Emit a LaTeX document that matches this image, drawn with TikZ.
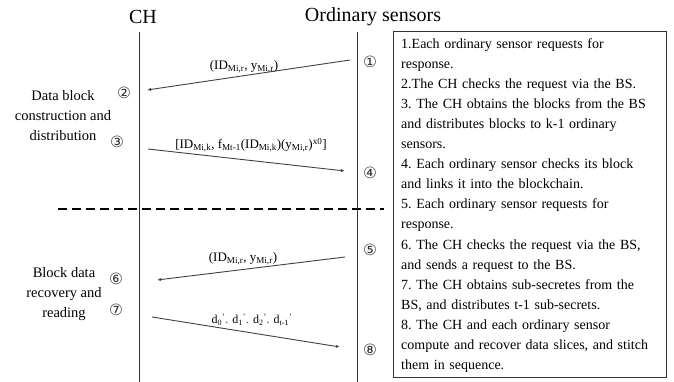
\documentclass[tikz,border=0pt]{standalone}
\usepackage{fontspec}
\setmainfont{Liberation Serif}
\newfontfamily\circfont{DejaVu Sans}
\newfontfamily\cjk{Noto Sans CJK SC}
\usetikzlibrary{arrows.meta}
\frenchspacing
\tikzset{lifeline/.style={draw=black!80, line width=0.9pt}}
\tikzset{msg/.style={draw=black!75, line width=0.9pt, -{Latex[length=4pt,width=3pt]}}}
\tikzset{msglabel/.style={font=\fontsize{13}{14}\selectfont, inner sep=0pt}}
\tikzset{circnum/.style={font=\circfont\fontsize{15.5}{16}\selectfont, text=black!80, inner sep=0pt}}
\tikzset{phase/.style={font=\fontsize{14.5}{20}\selectfont, align=center, inner sep=0pt}}

\begin{document}
\begin{tikzpicture}[x=1pt, y=-1pt]
    \useasboundingbox (0,0) rectangle (674,382);
    \node[font=\fontsize{20}{22}\selectfont] (ch) at (143,17) {CH};
    \node[font=\fontsize{20}{22}\selectfont] (os) at (373,17) {Ordinary sensors};
    \coordinate (chtop) at (139,32);
    \coordinate (chbot) at (139,382);
    \coordinate (ostop) at (357,32);
    \coordinate (osbot) at (357,382);
    \draw[lifeline] (chtop) -- (chbot);
    \draw[lifeline] (ostop) -- (osbot);
    \coordinate (dashl) at (58,209);
    \coordinate (dashr) at (384,209);
    \draw[line width=1.8pt, dash pattern=on 9pt off 5pt] (dashl) -- (dashr);
    \node[circnum] (c1) at (370,62) {①};
    \node[circnum] (c2) at (124,93) {②};
    \node[circnum] (c3) at (117,142) {③};
    \node[circnum] (c4) at (370,173) {④};
    \node[circnum] (c5) at (370,250) {⑤};
    \node[circnum] (c6) at (116,279) {⑥};
    \node[circnum] (c7) at (116,310) {⑦};
    \node[circnum] (c8) at (370,350) {⑧};
    \node[phase] (ph1) at (63,116) {Data block\\construction and\\distribution};
    \node[phase] (ph2) at (64,294) {Block data\\recovery and\\reading};
    \coordinate (m1s) at (350,60);
    \coordinate (m1e) at (147,90);
    \coordinate (m2s) at (148,149);
    \coordinate (m2e) at (345,171);
    \coordinate (m3s) at (345,257);
    \coordinate (m3e) at (157,280);
    \coordinate (m4s) at (152,317);
    \coordinate (m4e) at (340,347);
    \draw[msg] (m1s) -- (m1e);
    \draw[msg] (m2s) -- (m2e);
    \draw[msg] (m3s) -- (m3e);
    \draw[msg] (m4s) -- (m4e);
    \node[msglabel] (l1) at (244,67) {(ID\textsubscript{Mi,r}, y\textsubscript{Mi,r})};
    \node[msglabel] (l2) at (251,145) {[ID\textsubscript{Mi,k}, f\textsubscript{Mt-1}(ID\textsubscript{Mi,k})(y\textsubscript{Mi,r})\textsuperscript{x0}]};
    \node[msglabel] (l3) at (243,259) {(ID\textsubscript{Mi,r}, y\textsubscript{Mi,r})};
    \node[msglabel, font=\fontsize{12}{14}\selectfont] (l4) at (252,320) {d\textsubscript{0}\textsuperscript{'}{\cjk\fontsize{7}{8}\selectfont 、}d\textsubscript{1}\textsuperscript{'}{\cjk\fontsize{7}{8}\selectfont 、}d\textsubscript{2}\textsuperscript{'}{\cjk\fontsize{7}{8}\selectfont 、}d\textsubscript{t-1}\textsuperscript{'}};
    \draw[line width=0.8pt, draw=black!80] (393,31) rectangle (666,377);
    \node[anchor=north west, inner sep=0pt, text width=262pt, align=left,
          font=\fontsize{14}{20.1}\selectfont] (steps) at (401,38) {%
      1.Each ordinary sensor requests for\\
      response.\\
      2.The CH checks the request via the BS.\\
      3. The CH obtains the blocks from the BS\\
      and distributes blocks to k-1 ordinary\\
      sensors.\\
      4. Each ordinary sensor checks its block\\
      and links it into the blockchain.\\
      5. Each ordinary sensor requests for\\
      response.\\
      6. The CH checks the request via the BS,\\
      and sends a request to the BS.\\
      7. The CH obtains sub-secretes from the\\
      BS, and distributes t-1 sub-secrets.\\
      8. The CH and each ordinary sensor\\
      compute and recover data slices, and stitch\\
      them in sequence.};
\end{tikzpicture}
\end{document}
